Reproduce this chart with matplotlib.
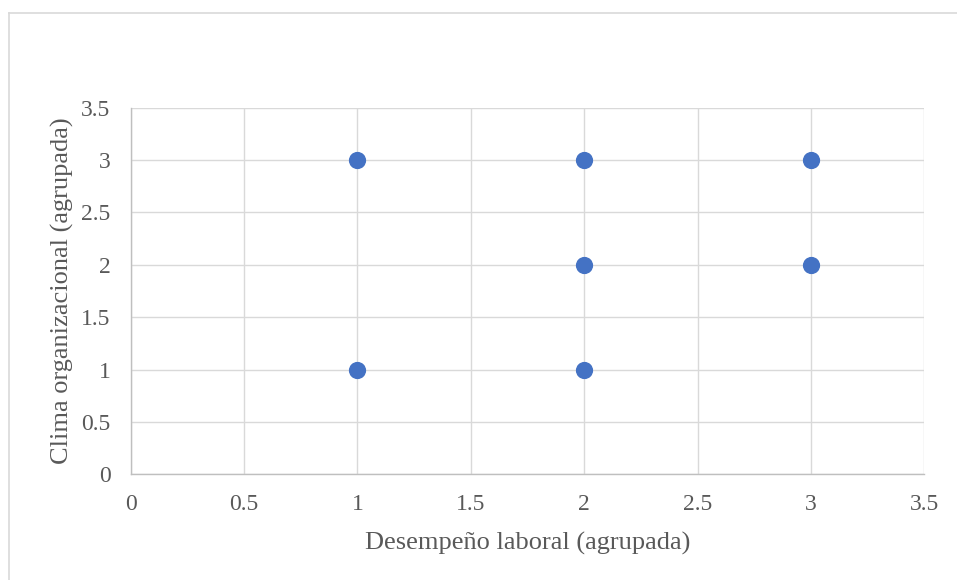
import matplotlib
matplotlib.use("Agg")
import matplotlib.pyplot as plt
from matplotlib.lines import Line2D

x_vals = [1, 2, 3, 2, 3, 1, 2]
y_vals = [3, 3, 3, 2, 2, 1, 1]
ticks = [0, 0.5, 1, 1.5, 2, 2.5, 3, 3.5]
tick_labels = ["0", "0.5", "1", "1.5", "2", "2.5", "3", "3.5"]
xlabel = "Desempeño laboral (agrupada)"
ylabel = "Clima organizacional (agrupada)"

plt.rcParams['font.family'] = ['Liberation Serif', 'DejaVu Serif']

W, H = 957, 580
fig = plt.figure(figsize=(W/100, H/100), dpi=100)
# outer chart border (top and left visible)
fig.lines.append(Line2D([8.5/W, 1.0], [1-12.5/H, 1-12.5/H], transform=fig.transFigure,
                        color='#D9D9D9', linewidth=1.2))
fig.lines.append(Line2D([8.5/W, 8.5/W], [0, 1-12.5/H], transform=fig.transFigure,
                        color='#D9D9D9', linewidth=1.2))

ax = fig.add_axes([130.7/W, 1-474.3/H, (924.3-130.7)/W, (474.3-107.7)/H])
ax.set_xlim(0, 3.5)
ax.set_ylim(0, 3.5)
ax.set_xticks(ticks)
ax.set_xticklabels(tick_labels)
ax.set_yticks(ticks)
ax.set_yticklabels(tick_labels)
ax.grid(True, color='#D9D9D9', linewidth=1.0)
ax.set_axisbelow(True)
for s in ['top', 'right']:
    ax.spines[s].set_visible(False)
for s in ['left', 'bottom']:
    ax.spines[s].set_color('#BFBFBF')
    ax.spines[s].set_linewidth(1.0)
ax.tick_params(length=0, labelsize=17, labelcolor='#595959')
ax.tick_params(axis='x', pad=14)
ax.tick_params(axis='y', pad=14.5)

ax.scatter(x_vals, y_vals, s=130, color='#4472C4', zorder=3, clip_on=False)

ax.set_xlabel(xlabel, fontsize=19, color='#595959', labelpad=12)
ax.set_ylabel(ylabel, fontsize=19, color='#595959', labelpad=5)

fig.savefig("out.png", dpi=100)
